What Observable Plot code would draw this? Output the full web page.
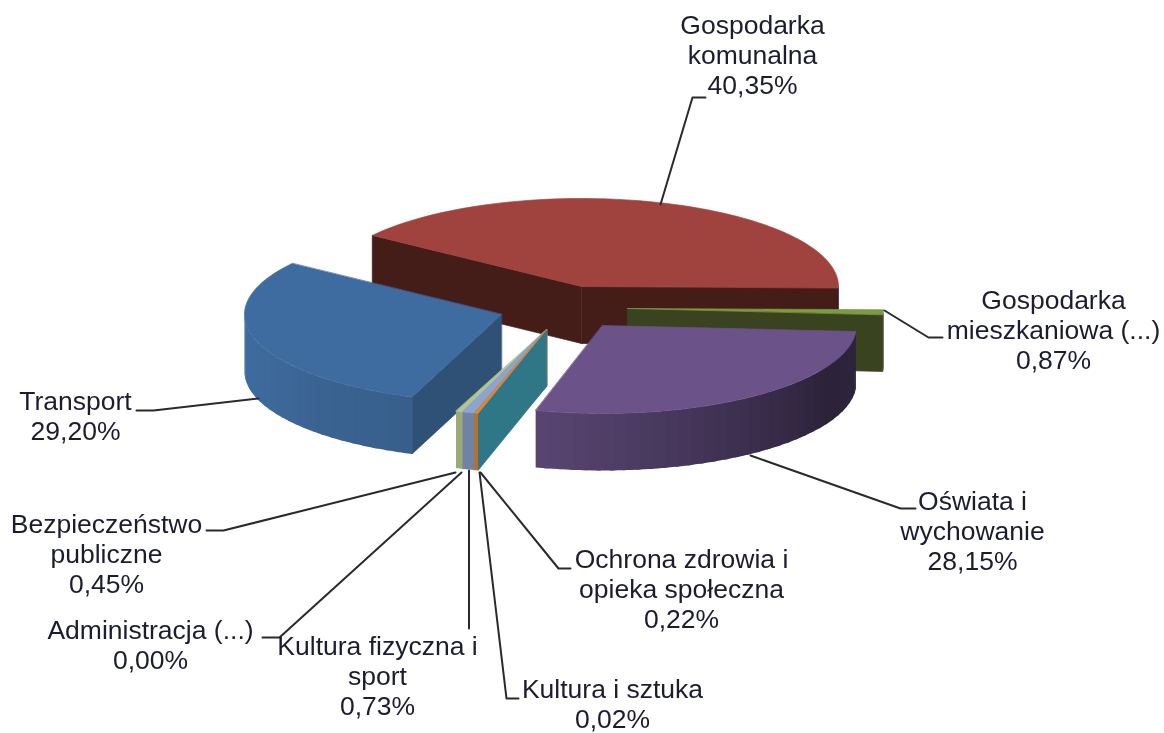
<!DOCTYPE html>
<html>
<head>
<meta charset="utf-8">
<script src="https://cdn.jsdelivr.net/npm/d3@7"></script>
<script src="https://cdn.jsdelivr.net/npm/@observablehq/plot@0.6"></script>
<style>
html,body{margin:0;padding:0;background:#fff}
svg{display:block}
</style>
</head>
<body>
<div id="chart"></div>
<script>
// --- data
const names = ["Gospodarka\nkomunalna","Gospodarka\nmieszkaniowa (...)","Oświata i\nwychowanie","Ochrona zdrowia i\nopieka społeczna","Kultura i sztuka","Kultura fizyczna i\nsport","Administracja (...)","Bezpieczeństwo\npubliczne","Transport"];
const values = [40.35,0.87,28.15,0.22,0.02,0.73,0.00,0.45,29.20];

// --- layout & style (per slice, same order as the data)
const startAngle = -54.5;
const centerX = [581,627,602,546,546,546,546,546,501];
const centerY = [286,308,325,329,329,329,329,329,314];
const radiusX = [257,256,254,260,260,260,260,260,257];
const radiusY = [88,88,88,87,87,87,87,87,88];
const depth = 57;
const topColors = ["#a0433e","#7b9c42","#6b5289","#d08a45","#d08a45","#8ca4d0","#8ca4d0","#b3c592","#3f6ca0"];
const cutColors = ["#441c18","#3a431f","#2e243c","#2f7687","#b8702f","#7083a5","#7083a5","#9aab78","#2f5176"];
const wallStops = [["#441c18","#441c18"],["#3a431f","#3a431f"],["#2d243c","#2c2338","#3c2e4e","#4a3a60","#5a4572"],["#b8702f","#b8702f"],["#b8702f","#b8702f"],["#7083a5","#7083a5"],["#7083a5","#7083a5"],["#9aab78","#9aab78"],["#385f8c","#3a6391","#3d6a9b","#3f6ca0"]];
const paintOrder = [0,1,8,7,6,5,4,3,2];

const labelX = [752,1053,972,681,612,377,150,106,75];
const labelY = [54,329,530,588,703,675,644,553,415];
const leaderPaths = [
  [[660,204],[692,97],[705,97]],
  [[884,310],[928,337],[942,337]],
  [[750,455],[900,508],[915,508]],
  [[480,472],[558,568],[570,568]],
  [[479,472],[506,698],[518,698]],
  [[468.5,470],[468.5,628]],
  [[461,472],[279,637],[262,637]],
  [[455,472],[223,530],[206,530]],
  [[258,398],[153,410],[136,410]]
];

// --- geometry derived from the values
const total = d3.sum(values);
let acc = startAngle;
const slices = values.map((v,i)=>{
  const a0 = acc, a1 = acc + v/total*360;
  acc = a1;
  return {i,a0,a1};
});
const pt = (i,deg,dz=0)=>{
  const t = deg*Math.PI/180;
  return [centerX[i]+radiusX[i]*Math.sin(t), centerY[i]-radiusY[i]*Math.cos(t)+dz];
};
const polys = [];
let pid = 0;
const addPoly = (pts,color,edge)=>{
  const id = pid++;
  pts.forEach(p=>polys.push({id,x:p[0],y:p[1],color,edge}));
};
const apex = (i,dz=0)=>[centerX[i],centerY[i]+dz];
const sinDeg = d=>Math.sin(d*Math.PI/180);
for (const k of paintOrder){
  const s = slices[k];
  // cut faces that look toward the viewer
  const visible = [];
  if (sinDeg(s.a0)<0) visible.push(s.a0);
  if (sinDeg(s.a1)>0) visible.push(s.a1);
  for (const a of visible){
    const p = pt(k,a);
    addPoly([apex(k),p,[p[0],p[1]+depth],apex(k,depth)],cutColors[k],cutColors[k]);
  }
  // outer wall, banded from the colour stops; each band overlaps the next to hide seams
  const lo = Math.max(s.a0,90), hi = Math.min(s.a1,270);
  if (hi>lo){
    const n = Math.max(1,Math.ceil((hi-lo)/3));
    const ramp = d3.piecewise(d3.interpolateRgb,wallStops[k]);
    for (let j=0;j<n;j++){
      const u0 = lo+(hi-lo)*j/n;
      const u1 = Math.min(hi,lo+(hi-lo)*(j+1)/n+1);
      const arc = [];
      for (let q=0;q<=4;q++) arc.push(u0+(u1-u0)*q/4);
      addPoly([...arc.map(a=>pt(k,a)),...arc.slice().reverse().map(a=>pt(k,a,depth))],d3.rgb(ramp((j+.5)/n)).formatHex(),"none");
    }
  }
  // top face
  const steps = Math.max(2,Math.ceil((s.a1-s.a0)/2));
  const top = [apex(k)];
  for (let j=0;j<=steps;j++) top.push(pt(k,s.a0+(s.a1-s.a0)*j/steps));
  addPoly(top,topColors[k],topColors[k]);
}

const label = (v)=>v.toFixed(2).replace(".",",")+"%";
const labels = names.map((n,i)=>({text:n+"\n"+label(values[i]),x:labelX[i],y:labelY[i]}));
const leaders = leaderPaths.flatMap((p,i)=>p.map(q=>({i,x:q[0],y:q[1]})));

const plot = Plot.plot({
  width:1164,height:733,margin:0,
  style:{background:"#fff",filter:"blur(0.4px)"},
  x:{domain:[0,1164],range:[0,1164],axis:null},
  y:{domain:[0,733],range:[0,733],axis:null},
  color:{type:"identity"},
  marks:[
    Plot.line(polys,{x:"x",y:"y",z:"id",fill:"color",stroke:"edge",strokeWidth:0.7,curve:"linear-closed"}),
    Plot.line(leaders,{x:"x",y:"y",z:"i",stroke:"#2a2a2a",strokeWidth:2,curve:"linear"}),
    Plot.text(labels,{x:"x",y:"y",text:"text",fontFamily:"Liberation Sans",fontSize:26.5,lineHeight:1.13,fill:"#1c1c30",textAnchor:"middle",lineAnchor:"middle"})
  ]
});
document.getElementById("chart").appendChild(plot);
</script>
</body>
</html>
